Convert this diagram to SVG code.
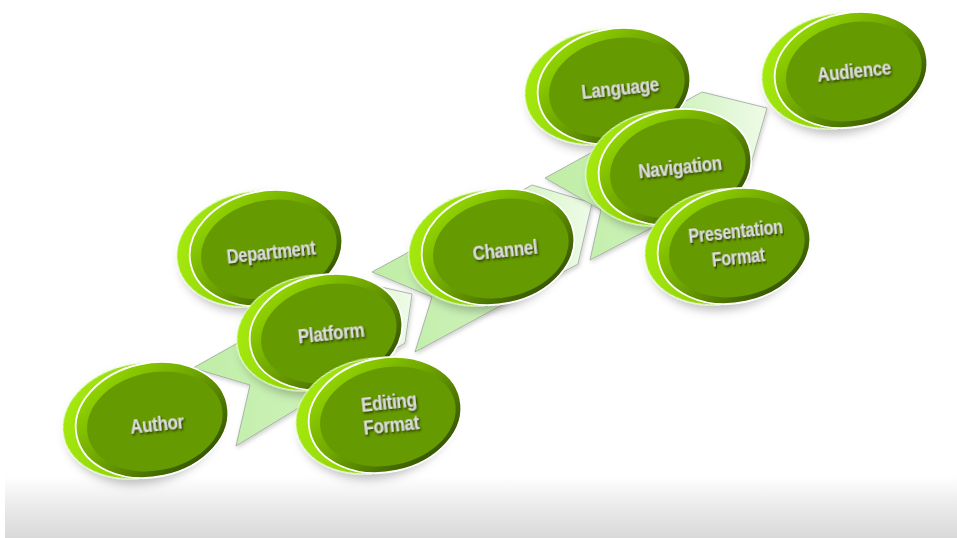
<svg xmlns="http://www.w3.org/2000/svg" width="957" height="538" viewBox="0 0 957 538">
<defs>
  <linearGradient id="band" x1="0" y1="0" x2="0" y2="1">
    <stop offset="0" stop-color="#ffffff"/>
    <stop offset="0.45" stop-color="#ececec"/>
    <stop offset="1" stop-color="#d9d9d9"/>
  </linearGradient>
  <linearGradient id="chev" x1="0" y1="0.5" x2="1" y2="0.5">
    <stop offset="0" stop-color="#bfeda6"/>
    <stop offset="0.55" stop-color="#cdf2ba"/>
    <stop offset="1" stop-color="#eefbe8"/>
  </linearGradient>
  <linearGradient id="backG" x1="0" y1="0.3" x2="1" y2="0.7">
    <stop offset="0" stop-color="#a6ea10"/>
    <stop offset="0.5" stop-color="#8fd200"/>
    <stop offset="1" stop-color="#6fa800"/>
  </linearGradient>
  <linearGradient id="rimG" x1="0.15" y1="0.05" x2="0.85" y2="0.95">
    <stop offset="0" stop-color="#96da00"/>
    <stop offset="0.45" stop-color="#6fa600"/>
    <stop offset="1" stop-color="#2f4c00"/>
  </linearGradient>
  <filter id="shadow" x="-30%" y="-30%" width="160%" height="170%">
    <feDropShadow dx="3" dy="6" stdDeviation="5" flood-color="#000" flood-opacity="0.25"/>
  </filter>
  <filter id="chShadow" x="-20%" y="-20%" width="140%" height="140%">
    <feDropShadow dx="1" dy="2" stdDeviation="2" flood-color="#000" flood-opacity="0.2"/>
  </filter>
  <filter id="txtShadow" x="-20%" y="-40%" width="140%" height="180%">
    <feDropShadow dx="1.2" dy="1.6" stdDeviation="0.9" flood-color="#1a2a00" flood-opacity="0.9"/>
  </filter>
</defs>
<style>
  .chev { fill: url(#chev); stroke: #9aa69a; stroke-width: 0.8; filter: url(#chShadow); }
  .back { fill: url(#backG); stroke: #f4ffe6; stroke-width: 1; filter: url(#shadow); }
  .rim { fill: url(#rimG); stroke: #ffffff; stroke-width: 1.8; }
  .face { fill: #659a00; }
  .lbl { font-family: "Liberation Sans", Arial, sans-serif; font-size: 19px; font-weight: bold; fill: #dcdcdc; letter-spacing: -0.3px; text-anchor: middle; filter: url(#txtShadow); }
</style>

<rect x="0" y="0" width="957" height="538" fill="#ffffff"/>
<rect x="5" y="476" width="952" height="62" fill="url(#band)"/>

<g id="connectors">
  <polygon class="chev" points="193,368 350,280 412,294 405,343 236,446 250,385"/>
  <polygon class="chev" points="372,272 532,185 592,203 578,264 415,352 432,297"/>
  <polygon class="chev" points="545,178 702,92 767,108 747,178 590,260 601,210"/>
</g>

<g id="node-author">
  <g transform="translate(152,420) rotate(-12)">
    <ellipse class="back" cx="-13" cy="-2" rx="77" ry="57"/>
    <ellipse class="rim" rx="77" ry="57"/>
    <ellipse class="face" cx="2.5" cy="2" rx="68.5" ry="49"/>
  </g>
  <text class="lbl" transform="translate(157,424) rotate(-6) scale(0.89,1.1)" y="6.5">Author</text>
</g>

<g id="node-department">
  <g transform="translate(266,248) rotate(-12)">
    <ellipse class="back" cx="-13" cy="-2" rx="77" ry="57"/>
    <ellipse class="rim" rx="77" ry="57"/>
    <ellipse class="face" cx="2.5" cy="2" rx="68.5" ry="49"/>
  </g>
  <text class="lbl" transform="translate(271,252) rotate(-6) scale(0.87,1.1)" y="6.5">Department</text>
</g>

<g id="node-platform">
  <g transform="translate(326,332) rotate(-12)">
    <ellipse class="back" cx="-13" cy="-2" rx="77" ry="57"/>
    <ellipse class="rim" rx="77" ry="57"/>
    <ellipse class="face" cx="2.5" cy="2" rx="68.5" ry="49"/>
  </g>
  <text class="lbl" transform="translate(331,333) rotate(-6) scale(0.89,1.1)" y="6.5">Platform</text>
</g>

<g id="node-editing-format">
  <g transform="translate(385,415) rotate(-12)">
    <ellipse class="back" cx="-13" cy="-2" rx="77" ry="57"/>
    <ellipse class="rim" rx="77" ry="57"/>
    <ellipse class="face" cx="2.5" cy="2" rx="68.5" ry="49"/>
  </g>
  <text class="lbl" transform="translate(390,414) rotate(-6) scale(0.89,1.1)"><tspan x="0" y="-5">Editing</tspan><tspan x="0" y="16">Format</tspan></text>
</g>

<g id="node-channel">
  <g transform="translate(498,247) rotate(-12)">
    <ellipse class="back" cx="-13" cy="-2" rx="77" ry="57"/>
    <ellipse class="rim" rx="77" ry="57"/>
    <ellipse class="face" cx="2.5" cy="2" rx="68.5" ry="49"/>
  </g>
  <text class="lbl" transform="translate(505,250) rotate(-6) scale(0.89,1.1)" y="6.5">Channel</text>
</g>

<g id="node-language">
  <g transform="translate(614,86) rotate(-12)">
    <ellipse class="back" cx="-13" cy="-2" rx="77" ry="57"/>
    <ellipse class="rim" rx="77" ry="57"/>
    <ellipse class="face" cx="2.5" cy="2" rx="68.5" ry="49"/>
  </g>
  <text class="lbl" transform="translate(620,88) rotate(-6) scale(0.89,1.1)" y="6.5">Language</text>
</g>

<g id="node-navigation">
  <g transform="translate(675,167) rotate(-12)">
    <ellipse class="back" cx="-13" cy="-2" rx="77" ry="57"/>
    <ellipse class="rim" rx="77" ry="57"/>
    <ellipse class="face" cx="2.5" cy="2" rx="68.5" ry="49"/>
  </g>
  <text class="lbl" transform="translate(680,167) rotate(-6) scale(0.89,1.1)" y="6.5">Navigation</text>
</g>

<g id="node-presentation-format">
  <g transform="translate(734,246) rotate(-12)">
    <ellipse class="back" cx="-13" cy="-2" rx="77" ry="57"/>
    <ellipse class="rim" rx="77" ry="57"/>
    <ellipse class="face" cx="2.5" cy="2" rx="68.5" ry="49"/>
  </g>
  <text class="lbl" transform="translate(737,246) rotate(-6) scale(0.85,1.1)"><tspan x="0" y="-7">Presentation</tspan><tspan x="0" y="16">Format</tspan></text>
</g>

<g id="node-audience">
  <g transform="translate(851,70) rotate(-12)">
    <ellipse class="back" cx="-13" cy="-2" rx="77" ry="57"/>
    <ellipse class="rim" rx="77" ry="57"/>
    <ellipse class="face" cx="2.5" cy="2" rx="68.5" ry="49"/>
  </g>
  <text class="lbl" transform="translate(854,71) rotate(-6) scale(0.89,1.1)" y="6.5">Audience</text>
</g>
</svg>
